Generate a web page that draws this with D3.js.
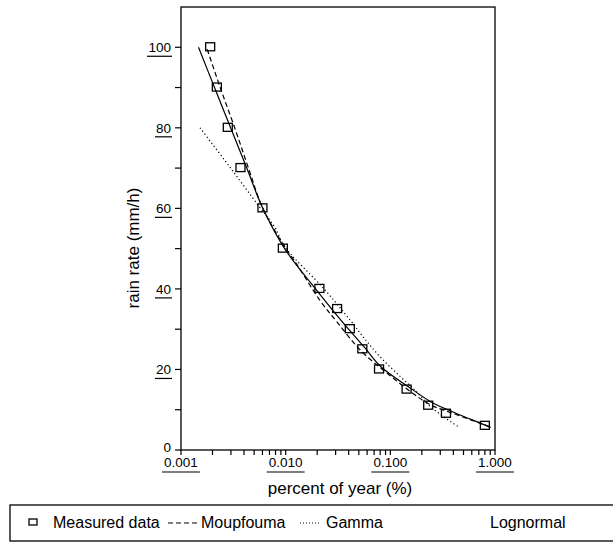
<!DOCTYPE html>
<html>
<head>
<meta charset="utf-8">
<script src="https://cdn.jsdelivr.net/npm/d3@7"></script>
<style>
  body { margin: 0; background: #fff; }
  svg { display: block; font-family: "Liberation Sans", Arial, Helvetica, sans-serif; }
</style>
</head>
<body>
<div id="chart"></div>
<script>
// measured rain rate exceedance
const measuredP = [0.0019, 0.0022, 0.0028, 0.0037, 0.0060, 0.0094, 0.021, 0.031, 0.041, 0.054, 0.078, 0.143, 0.23, 0.34, 0.80];
const measuredR = [100, 90, 80, 70, 60, 50, 40, 35, 30, 25, 20, 15, 11, 9, 6];

// fitted models
const lognormalP = [0.00147, 0.00209, 0.00298, 0.00425, 0.00605, 0.00977, 0.0193, 0.0356, 0.0562, 0.0818, 0.149, 0.243, 0.353, 0.838, 0.91];
const lognormalR = [100, 90, 80, 70, 60, 50, 40, 31.5, 25.6, 20.6, 15.7, 12, 10, 6, 5.6];

const moupfoumaP = [0.00178, 0.00237, 0.00326, 0.00441, 0.00605, 0.00977, 0.0127, 0.0212, 0.0307, 0.0535, 0.0929, 0.156, 0.243, 0.438, 0.881];
const moupfoumaR = [99.5, 90, 80, 70, 60, 50.5, 46.2, 37.2, 31.9, 24.4, 19.1, 14.5, 11.2, 8.7, 5.8];

const gammaP = [0.00152, 0.0029, 0.0056, 0.0078, 0.0098, 0.0229, 0.0412, 0.055, 0.080, 0.125, 0.182, 0.243, 0.45];
const gammaR = [80, 70.4, 60.4, 55.5, 50.5, 40.2, 32.3, 28.1, 23.1, 18.2, 14.2, 10.7, 5.7];

const xTicks = [0.001, 0.01, 0.1, 1];
const xTickLabels = ["0.001", "0.010", "0.100", "1.000"];
const yTicks = [0, 20, 40, 60, 80, 100];
const yTickLabels = ["0", "20", "40", "60", "80", "100"];

const legendLabels = ["Measured data", "Moupfouma", "Gamma", "Lognormal"];

const width = 613;
const height = 545;
const plot = { left: 181, right: 495, top: 7, bottom: 450 };

const svg = d3.select("#chart").append("svg").attr("width", width).attr("height", height);

const x = d3.scaleLog().domain([0.001, 1]).range([plot.left, plot.right]);
const y = d3.scaleLinear().domain([0, 110]).range([plot.bottom, plot.top]);

// frame
svg.append("rect")
  .attr("x", plot.left).attr("y", plot.top)
  .attr("width", plot.right - plot.left).attr("height", plot.bottom - plot.top)
  .attr("fill", "none").attr("stroke", "#000").attr("stroke-width", 1.3);

// x ticks (log minor + major)
svg.selectAll(".xt")
  .data(x.ticks())
  .join("line")
  .attr("x1", (d) => x(d)).attr("x2", (d) => x(d))
  .attr("y1", plot.bottom).attr("y2", plot.bottom + 5)
  .attr("stroke", "#000").attr("stroke-width", 1.2);

// y ticks every 10
svg.selectAll(".yt")
  .data(d3.range(0, 101, 10))
  .join("line")
  .attr("x1", plot.left - 6).attr("x2", plot.left)
  .attr("y1", (d) => y(d)).attr("y2", (d) => y(d))
  .attr("stroke", "#000").attr("stroke-width", 1.2);

// x tick labels with underline
const xl = svg.selectAll(".xl").data(xTicks).join("g");
xl.append("text")
  .attr("x", (d) => x(d)).attr("y", plot.bottom + 17)
  .attr("text-anchor", "middle")
  .attr("font-size", 13.5)
  .text((d, i) => xTickLabels[i]);
xl.append("line")
  .attr("x1", (d) => x(d) - 19).attr("x2", (d) => x(d) + 19)
  .attr("y1", plot.bottom + 22).attr("y2", plot.bottom + 22)
  .attr("stroke", "#000").attr("stroke-width", 1.2);

// y tick labels, underlined except 0
const yl = svg.selectAll(".yl").data(yTicks).join("g");
yl.append("text")
  .attr("x", plot.left - 10).attr("y", (d) => y(d) + (d === 0 ? 2 : 5))
  .attr("text-anchor", "end")
  .attr("font-size", 13.5)
  .text((d, i) => yTickLabels[i]);
yl.filter((d) => d > 0)
  .append("line")
  .attr("x1", (d) => plot.left - 10 - (d >= 100 ? 24 : 16)).attr("x2", plot.left - 9)
  .attr("y1", (d) => y(d) + 9).attr("y2", (d) => y(d) + 9)
  .attr("stroke", "#000").attr("stroke-width", 1.2);

// axis titles
svg.append("text")
  .attr("x", 340).attr("y", 494)
  .attr("text-anchor", "middle")
  .attr("font-size", 17)
  .text("percent of year (%)");

svg.append("text")
  .attr("transform", "translate(139,248) rotate(-90)")
  .attr("text-anchor", "middle")
  .attr("font-size", 17)
  .text("rain rate (mm/h)");

// curves
const line = d3.line()
  .x((d) => x(d[0]))
  .y((d) => y(d[1]))
  .curve(d3.curveCatmullRom.alpha(0.5));

svg.append("path")
  .attr("d", line(d3.zip(lognormalP, lognormalR)))
  .attr("fill", "none").attr("stroke", "#000").attr("stroke-width", 1.2);

svg.append("path")
  .attr("d", line(d3.zip(moupfoumaP, moupfoumaR)))
  .attr("fill", "none").attr("stroke", "#000").attr("stroke-width", 1.2)
  .attr("stroke-dasharray", "5,3");

svg.append("path")
  .attr("d", line(d3.zip(gammaP, gammaR)))
  .attr("fill", "none").attr("stroke", "#000").attr("stroke-width", 1.2)
  .attr("stroke-dasharray", "1.2,2.6");

// measured squares
svg.selectAll(".pt")
  .data(d3.zip(measuredP, measuredR))
  .join("rect")
  .attr("x", (d) => x(d[0]) - 4.5).attr("y", (d) => y(d[1]) - 4.5)
  .attr("width", 9).attr("height", 8)
  .attr("fill", "none").attr("stroke", "#000").attr("stroke-width", 1.3);

// legend
const lg = svg.append("g");
lg.append("rect")
  .attr("x", 10).attr("y", 505)
  .attr("width", 620).attr("height", 36)
  .attr("fill", "none").attr("stroke", "#000").attr("stroke-width", 1.3);
lg.append("rect")
  .attr("x", 29).attr("y", 519).attr("width", 8).attr("height", 6)
  .attr("fill", "none").attr("stroke", "#000").attr("stroke-width", 1.3);
lg.append("line")
  .attr("x1", 168).attr("x2", 198).attr("y1", 523).attr("y2", 523)
  .attr("stroke", "#000").attr("stroke-width", 1.2).attr("stroke-dasharray", "5,3");
lg.append("line")
  .attr("x1", 300).attr("x2", 321).attr("y1", 523).attr("y2", 523)
  .attr("stroke", "#000").attr("stroke-width", 1).attr("stroke-dasharray", "1,2");
const legendX = [53, 201, 326, 490];
lg.selectAll(".lt")
  .data(legendLabels)
  .join("text")
  .attr("x", (d, i) => legendX[i]).attr("y", 528)
  .attr("font-size", 16)
  .text((d) => d);
</script>
</body>
</html>
